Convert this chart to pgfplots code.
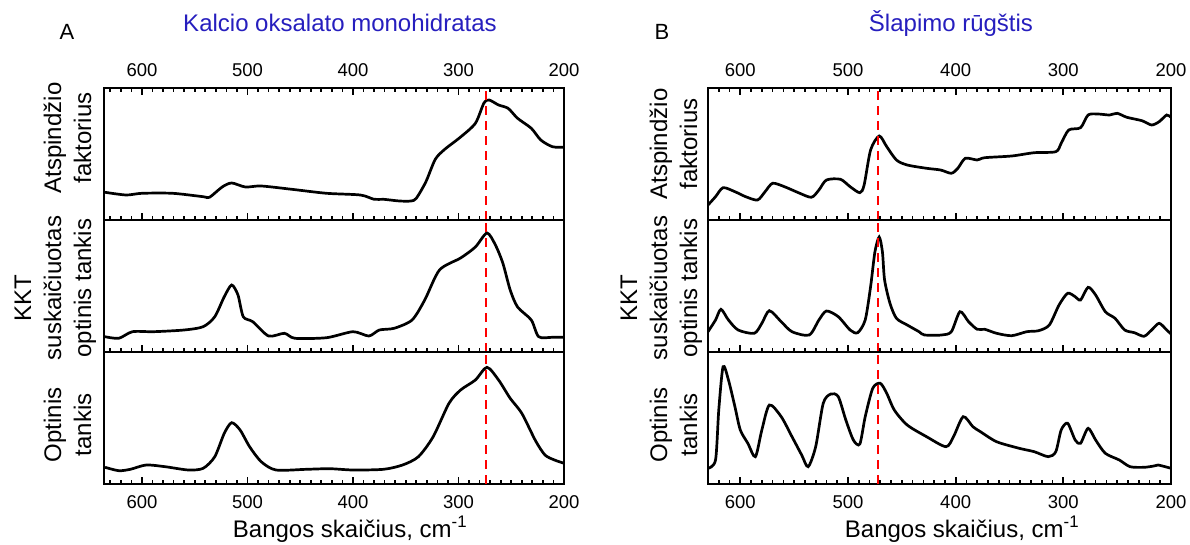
\documentclass[border=0pt]{standalone}
\usepackage{pgfplots}
\pgfplotsset{compat=1.18}
\usepackage{fontspec}
\setmainfont{Liberation Sans}
\definecolor{ttl}{RGB}{38,30,190}
\begin{document}
\begin{tikzpicture}[x=1pt,y=1pt]
\useasboundingbox (0,0) rectangle (1190,544);
\pgfplotsset{
  spec/.style={scale only axis, height=132pt, x dir=reverse,
    ymin=0, ymax=132, ytick=\empty, xtick={200,300,400,500,600},
    minor xtick={210,220,...,630},
    tick align=inside, major tick length=7pt, minor tick length=4pt,
    axis line style={line width=2.8pt},
    every tick/.style={black, line width=1.7pt},
    xticklabel style={font=\fontsize{18.5}{18.5}\selectfont},
    /pgf/number format/assume math mode=true,
    /pgf/number format/1000 sep={}},
  pA/.style={spec, width=460pt, xmin=200, xmax=636},
  pB/.style={spec, width=463pt, xmin=200, xmax=630},
  topax/.style={xtick pos=both, xticklabel pos=upper, xticklabel style={yshift=8pt}},
  midax/.style={xtick pos=lower, xticklabels={}},
  botax/.style={xtick pos=lower, xticklabel pos=lower, xticklabel style={yshift=-8pt}},
  curve/.style={black, line width=2.7pt, smooth, tension=0.45, no marks},
  redl/.style={red, line width=2.6pt, dash pattern=on 9pt off 6pt, no marks},
}
% ---------------- Panel A ----------------
\begin{axis}[pA, topax, at={(104pt,324pt)}, anchor=south west]
\addplot[curve] coordinates {(635,27.7) (615,25) (600,26.7) (571,26.7) (542,23.3) (536,22.7) (524,33) (515,37) (502,33) (487,34) (458,30.7) (425,26.7) (393,25) (380,20.7) (371,20.7) (356,19) (345,19) (340,21.7) (331,38) (322,60.7) (313,70.7) (298,83) (284,96.7) (276,116.7) (271,120) (262,115) (253,111.7) (244,101.7) (231,91.7) (222,80) (211,73.3) (200,72.7)};
\addplot[redl] coordinates {(274,0) (274,132)};
\end{axis}
\begin{axis}[pA, midax, at={(104pt,192pt)}, anchor=south west]
\addplot[curve] coordinates {(635,15.3) (622,13.7) (609,20.3) (589,20.3) (560,22) (542,25.3) (531,35.3) (522,55.3) (515,67) (509,57) (504,35.3) (495,30.3) (480,16) (465,18.7) (455,13.7) (425,14.3) (400,20.3) (385,16) (375,22) (361,23.7) (344,32) (332,52) (318,82) (298,94) (284,105) (273,119) (265,107) (258,89) (251,62) (244,45) (231,32) (224,15.3) (211,14.7) (200,14.7)};
\addplot[redl] coordinates {(274,0) (274,132)};
\end{axis}
\begin{axis}[pA, botax, at={(104pt,60pt)}, anchor=south west]
\addplot[curve] coordinates {(635,16.7) (622,13.3) (611,14.7) (596,19) (578,17.3) (556,14) (542,15.7) (531,27.3) (522,50.7) (515,61.3) (507,54) (498,37.3) (487,22.3) (473,14) (444,14.7) (422,15.3) (400,14) (371,14.7) (353,19) (338,27.3) (324,47.3) (309,80.7) (298,94) (284,104) (273,116.7) (262,104) (251,85.7) (240,70.7) (227,43.3) (218,29) (209,24) (200,20.7)};
\addplot[redl] coordinates {(274,0) (274,132)};
\end{axis}
% ---------------- Panel B ----------------
\begin{axis}[pB, topax, at={(708pt,324pt)}, anchor=south west]
\addplot[curve] coordinates {(630,15) (623,23.3) (616,32.3) (605,28.3) (595,23.3) (584,20) (577,28.3) (570,36.7) (559,33.3) (546,27.3) (534,22.7) (527,30) (520,40) (507,40.7) (498,33.3) (489,27.3) (485,35) (479,70) (471,84) (464,73.3) (455,60) (445,55) (427,51.7) (414,50) (404,46.7) (398,51.7) (391,61.7) (380,60) (373,62.3) (348,64) (327,67.3) (307,68.3) (302,76.7) (295,90) (284,92.3) (277,105) (268,106) (257,105) (250,106.7) (241,102.7) (227,99.3) (218,95) (211,98.3) (204,105) (200,102.7)};
\addplot[redl] coordinates {(472,0) (472,132)};
\end{axis}
\begin{axis}[pB, midax, at={(708pt,192pt)}, anchor=south west]
\addplot[curve] coordinates {(630,20.3) (623,32) (618,42.7) (611,32) (602,22) (587,18.7) (580,28.7) (573,41.3) (562,30.3) (552,20.3) (536,17) (527,32) (520,41) (509,35.3) (498,22) (491,19.3) (484,32) (479,65.3) (475,100) (471,115) (468,100) (466,72) (461,48.7) (455,33.7) (445,27) (434,20.3) (429,17) (413,17) (404,20.3) (396,40.3) (388,30.3) (380,22.7) (373,22.7) (362,18.7) (348,16.3) (334,20.3) (323,21.3) (313,27) (304,47) (296,58.7) (289,55.3) (284,52) (277,64.7) (270,57) (261,40.3) (252,33.7) (243,22) (234,19.3) (225,15.7) (218,22) (211,28.7) (204,22) (200,18)};
\addplot[redl] coordinates {(472,0) (472,132)};
\end{axis}
\begin{axis}[pB, botax, at={(708pt,60pt)}, anchor=south west]
\addplot[curve] coordinates {(630,15.7) (623,24) (620,74) (616,117.3) (611,104) (605,77.3) (600,54) (593,40.7) (586,27.3) (580,54) (573,79) (562,67.3) (552,47.3) (543,29) (537,17.3) (530,37.3) (523,80.7) (516,90) (509,87.3) (502,64) (495,44) (489,40) (484,67.3) (477,95.7) (470,100.7) (464,90.7) (457,74) (445,59) (427,47.3) (409,37.3) (402,47.3) (393,67.3) (384,57.3) (377,52.3) (362,42.3) (341,35.7) (327,32.3) (314,27.3) (307,32.3) (302,54) (296,60.7) (289,44) (284,40.7) (277,55.7) (270,44) (261,30.7) (248,24) (238,17.3) (225,16.7) (216,18) (212,19) (200,15.7)};
\addplot[redl] coordinates {(472,0) (472,132)};
\end{axis}
% ---------------- Texts ----------------
\node[anchor=base, font=\fontsize{22}{22}\selectfont] at (67,504) {A};
\node[anchor=base, font=\fontsize{22}{22}\selectfont] at (662,504) {B};
\node[anchor=base, text=ttl, font=\fontsize{24}{24}\selectfont] at (340,512) {Kalcio oksalato monohidratas};
\node[anchor=base, text=ttl, font=\fontsize{24}{24}\selectfont] at (951,512) {Šlapimo rūgštis};
\node[anchor=base, font=\fontsize{24}{24}\selectfont] at (350,7) {Bangos skaičius, cm\textsuperscript{-1}};
\node[anchor=base, font=\fontsize{24}{24}\selectfont] at (962,7) {Bangos skaičius, cm\textsuperscript{-1}};
\begin{scope}[every node/.style={rotate=90, anchor=base, font=\fontsize{24}{24}\selectfont}]
% A
\node at (61,406) {Atspindžio};
\node at (91,406) {faktorius};
\node at (31,246) {KKT};
\node at (61,256) {suskaičiuotas};
\node at (91,256) {optinis tankis};
\node at (61,119) {Optinis};
\node at (91,119) {tankis};
% B
\node at (667,400) {Atspindžio};
\node at (697,400) {faktorius};
\node at (637,246) {KKT};
\node at (667,256) {suskaičiuotas};
\node at (697,256) {optinis tankis};
\node at (667,119) {Optinis};
\node at (697,119) {tankis};
\end{scope}
\end{tikzpicture}
\end{document}
